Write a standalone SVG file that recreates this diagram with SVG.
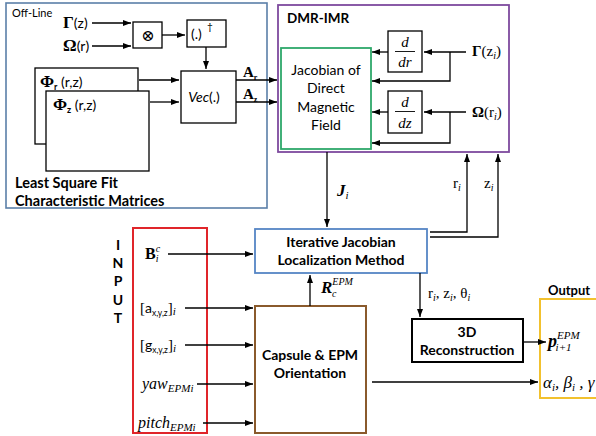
<svg xmlns="http://www.w3.org/2000/svg" width="596" height="436" viewBox="0 0 596 436">
<defs>
<marker id="ah" viewBox="0 0 8 6" refX="8" refY="3" markerWidth="8" markerHeight="6" orient="auto" markerUnits="userSpaceOnUse"><path d="M0,0 L8,3 L0,6 z" fill="#000"/></marker>
<style>
.s{font-family:Lato,"Liberation Sans",sans-serif;fill:#000}
.b{font-weight:bold}
.m{font-family:"Liberation Serif","DejaVu Serif",serif;fill:#000}
.box{fill:#fff;stroke:#000;stroke-width:1.3}
.c{fill:none;stroke:#000;stroke-width:1.3}
.a{fill:none;stroke:#000;stroke-width:1.3;marker-end:url(#ah)}
</style>
</defs>
<rect width="596" height="436" fill="#fff"/>

<g id="offline">
<rect x="6" y="3" width="261" height="205" fill="#fff" stroke="#5b7fa8" stroke-width="1.6"/>
<text x="12" y="17" class="s" font-size="11">Off-Line</text>
<text x="15" y="188" class="s b" font-size="14.5">Least Square Fit</text>
<text x="15" y="206" class="s b" font-size="14.5">Characteristic Matrices</text>
</g>

<g id="gammaz"><text x="63" y="28" class="m" font-size="17"><tspan font-weight="bold">Γ</tspan><tspan class="s" font-size="14">(z)</tspan></text></g>
<g id="omegar"><text x="63" y="51" class="m" font-size="17"><tspan font-weight="bold">Ω</tspan><tspan class="s" font-size="14">(r)</tspan></text></g>

<g id="otimes">
<rect x="133" y="22" width="29" height="26" class="box"/>
<text x="148" y="41" class="m" font-size="16" text-anchor="middle">⊗</text>
</g>
<g id="pinv">
<rect x="187" y="20" width="39" height="27" class="box"/>
<text x="191" y="39" class="s" font-size="14">(.)</text>
<text x="207" y="30" class="s" font-size="10">†</text>
</g>
<g id="vec">
<rect x="181" y="71" width="55" height="52" class="box"/>
<text x="204" y="102" class="s" font-size="14" text-anchor="middle"><tspan font-style="italic">Vec</tspan>(.)</text>
</g>
<g id="phir">
<rect x="35" y="68" width="103" height="76" class="box"/>
<text x="40" y="87" class="m" font-size="17"><tspan font-weight="bold">Φ</tspan><tspan class="s b" font-size="9" dy="3">r</tspan><tspan class="s" font-size="14" dy="-3"> (r,z)</tspan></text>
</g>
<g id="phiz">
<rect x="46" y="91" width="103" height="80" class="box"/>
<text x="53" y="110" class="m" font-size="17"><tspan font-weight="bold">Φ</tspan><tspan class="s b" font-size="9" dy="3">z</tspan><tspan class="s" font-size="14" dy="-3"> (r,z)</tspan></text>
</g>

<g id="dmrimr">
<rect x="278" y="5" width="231" height="147" fill="none" stroke="#7e4a9e" stroke-width="1.8"/>
<text x="287" y="23" class="s b" font-size="13.5">DMR-IMR</text>
</g>
<g id="jacobian">
<rect x="281" y="48" width="90" height="101" fill="#fff" stroke="#2ea86a" stroke-width="1.8"/>
<text class="s" font-size="14" text-anchor="middle"><tspan x="326" y="75">Jacobian of</tspan><tspan x="326" y="93">Direct</tspan><tspan x="326" y="112">Magnetic</tspan><tspan x="326" y="130">Field</tspan></text>
</g>
<g id="ddr">
<rect x="388" y="31" width="34" height="41" class="box"/>
<text x="405" y="47" class="m" font-size="15" font-style="italic" text-anchor="middle">d</text>
<line x1="395" y1="51.5" x2="415" y2="51.5" stroke="#000" stroke-width="0.9"/>
<text x="405" y="67" class="m" font-size="15" font-style="italic" text-anchor="middle">dr</text>
</g>
<g id="ddz">
<rect x="388" y="91" width="34" height="42" class="box"/>
<text x="405" y="107" class="m" font-size="15" font-style="italic" text-anchor="middle">d</text>
<line x1="395" y1="111.5" x2="415" y2="111.5" stroke="#000" stroke-width="0.9"/>
<text x="405" y="128" class="m" font-size="15" font-style="italic" text-anchor="middle">dz</text>
</g>
<g id="gammazi"><text x="472" y="56" class="m" font-size="15"><tspan font-weight="bold">Γ</tspan>(z<tspan font-style="italic" font-size="10" dy="3">i</tspan><tspan dy="-3">)</tspan></text></g>
<g id="omegari"><text x="472" y="117" class="m" font-size="15"><tspan font-weight="bold">Ω</tspan>(r<tspan font-style="italic" font-size="10" dy="3">i</tspan><tspan dy="-3">)</tspan></text></g>

<g id="ijlm">
<rect x="255" y="229" width="172" height="44" fill="#fff" stroke="#5585c5" stroke-width="1.8"/>
<text class="s b" font-size="14" text-anchor="middle"><tspan x="341" y="247">Iterative Jacobian</tspan><tspan x="341" y="265">Localization Method</tspan></text>
</g>

<g id="input">
<rect x="133" y="228" width="74" height="205" fill="none" stroke="#e0252a" stroke-width="2"/>
<text class="s b" font-size="14" text-anchor="middle"><tspan x="118" y="250">I</tspan><tspan x="118" y="268">N</tspan><tspan x="118" y="286">P</tspan><tspan x="118" y="305">U</tspan><tspan x="118" y="323">T</tspan></text>
<text x="145" y="259" class="m" font-size="16"><tspan font-weight="bold">B</tspan><tspan font-style="italic" font-size="10" dy="-7">c</tspan><tspan font-style="italic" font-size="10" dx="-4.5" dy="10">i</tspan></text>
<text x="140" y="313" class="m" font-size="15">[<tspan class="s" font-size="14">a</tspan><tspan class="s" font-size="8.5" dy="3">x,y,z</tspan><tspan dy="-3">]</tspan><tspan font-style="italic" font-size="11" dy="2">i</tspan></text>
<text x="140" y="350" class="m" font-size="15">[<tspan class="s" font-size="14">g</tspan><tspan class="s" font-size="8.5" dy="3">x,y,z</tspan><tspan dy="-3">]</tspan><tspan font-style="italic" font-size="11" dy="2">i</tspan></text>
<text x="142" y="389" class="m" font-size="16" font-style="italic">yaw<tspan font-size="11" dy="3">EPMi</tspan></text>
<text x="138" y="428" class="m" font-size="16" font-style="italic">pitch<tspan font-size="11" dy="3">EPMi</tspan></text>
</g>

<g id="capsule">
<rect x="255" y="306" width="111" height="127" fill="#fff" stroke="#8a5a2c" stroke-width="2"/>
<text class="s b" font-size="14" text-anchor="middle"><tspan x="310" y="360">Capsule &amp; EPM</tspan><tspan x="310" y="378">Orientation</tspan></text>
</g>

<g id="recon">
<rect x="412" y="319" width="111" height="43" fill="#fff" stroke="#000" stroke-width="2"/>
<text class="s b" font-size="14" text-anchor="middle"><tspan x="467" y="337">3D</tspan><tspan x="467" y="355">Reconstruction</tspan></text>
</g>

<g id="output">
<rect x="540" y="299" width="70" height="99" fill="none" stroke="#f2c12e" stroke-width="2"/>
<text x="548" y="295" class="s b" font-size="13">Output</text>
<text x="548" y="347" class="m" font-size="18" font-weight="bold" font-style="italic">p<tspan font-size="11" font-weight="normal" dy="-8">EPM</tspan><tspan font-size="11" font-weight="normal" dx="-24" dy="12">i+1</tspan></text>
<text x="543" y="388" class="m" font-size="17" font-style="italic">α<tspan font-size="11" dy="3">i</tspan><tspan dy="-3">, β</tspan><tspan font-size="11" dy="3">i</tspan><tspan dy="-3"> , γ</tspan></text>
</g>

<g id="connectors">
<line x1="92" y1="23" x2="131" y2="23" class="a"/>
<line x1="92" y1="46" x2="131" y2="46" class="a"/>
<line x1="162" y1="35" x2="185" y2="35" class="a"/>
<line x1="206" y1="47" x2="206" y2="69" class="a"/>
<line x1="139" y1="80" x2="179" y2="80" class="a"/>
<line x1="150" y1="102" x2="179" y2="102" class="a"/>
<line x1="236" y1="80" x2="277" y2="80" class="a"/>
<line x1="236" y1="102" x2="277" y2="102" class="a"/>
<text x="243" y="77" class="m" font-size="15" font-weight="bold">A<tspan font-size="8" dy="3">r</tspan></text>
<text x="243" y="99" class="m" font-size="15" font-weight="bold">A<tspan font-size="8" dy="3">z</tspan></text>
<line x1="388" y1="52" x2="372" y2="52" class="a"/>
<line x1="466" y1="52" x2="424" y2="52" class="a"/>
<polyline points="450,52 450,81 372,81" class="a"/>
<line x1="388" y1="112" x2="372" y2="112" class="a"/>
<line x1="466" y1="112" x2="424" y2="112" class="a"/>
<polyline points="450,112 450,143 372,143" class="a"/>
<line x1="327" y1="152" x2="327" y2="227" class="a"/>
<text x="337" y="196" class="m" font-size="17" font-weight="bold" font-style="italic">J<tspan font-size="11" font-weight="normal" dy="3">i</tspan></text>
<polyline points="430,232 467,232 467,154" class="a"/>
<polyline points="430,237 498,237 498,154" class="a"/>
<text x="453" y="188" class="m" font-size="15">r<tspan font-style="italic" font-size="10" dy="3">i</tspan></text>
<text x="484" y="188" class="m" font-size="15">z<tspan font-style="italic" font-size="10" dy="3">i</tspan></text>
<line x1="168" y1="254" x2="253" y2="254" class="a"/>
<line x1="185" y1="308" x2="253" y2="308" class="a"/>
<line x1="185" y1="345" x2="253" y2="345" class="a"/>
<line x1="197" y1="384" x2="253" y2="384" class="a"/>
<line x1="203" y1="423" x2="253" y2="423" class="a"/>
<line x1="310" y1="306" x2="310" y2="275" class="a"/>
<text x="321" y="293" class="m" font-size="17" font-weight="bold" font-style="italic">R<tspan font-size="10" font-weight="normal" dy="-8">EPM</tspan><tspan font-size="10" font-weight="normal" dx="-21" dy="12">c</tspan></text>
<line x1="420" y1="273" x2="420" y2="317" class="a"/>
<text x="428" y="298" class="m" font-size="15">r<tspan font-style="italic" font-size="10" dy="3">i</tspan><tspan dy="-3">, z</tspan><tspan font-style="italic" font-size="10" dy="3">i</tspan><tspan dy="-3">, θ</tspan><tspan font-style="italic" font-size="10" dy="3">i</tspan></text>
<line x1="523" y1="342" x2="546" y2="342" class="a"/>
<line x1="372" y1="382" x2="538" y2="382" class="a"/>
</g>
</svg>
